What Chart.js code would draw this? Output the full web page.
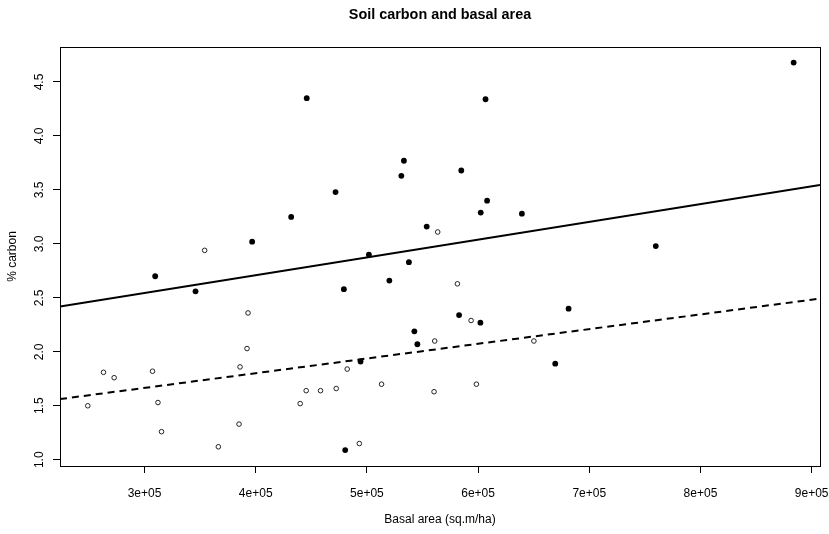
<!DOCTYPE html>
<html>
<head>
<meta charset="utf-8">
<title>Soil carbon and basal area</title>
<script src="https://cdn.jsdelivr.net/npm/chart.js@4/dist/chart.umd.min.js"></script>
<style>
  html, body { margin: 0; padding: 0; background: #ffffff; }
  canvas { display: block; }
</style>
</head>
<body>
<canvas id="chart" width="829" height="534"></canvas>
<script>
// Plots with filled markers (upper group)
const groupOneBasal = [309600, 345900, 396800, 431900, 445900, 471800, 479300, 480500, 494300, 501800,
                       520200, 531000, 533300, 537800, 542700, 545400, 553800, 582900, 584900, 602100,
                       602400, 606700, 608100, 639400, 669400, 681400, 759800, 883800];
const groupOneCarbon = [2.70, 2.56, 3.02, 3.25, 4.35, 3.48, 2.58, 1.09, 1.91, 2.90,
                        2.66, 3.63, 3.77, 2.83, 2.19, 2.07, 3.16, 2.34, 3.68, 2.27,
                        3.29, 4.34, 3.40, 3.28, 1.89, 2.40, 2.98, 4.68];

// Plots with open markers (lower group)
const groupTwoBasal = [249000, 263100, 272700, 307200, 312100, 315300, 354100, 366400, 385000, 385900,
                       392200, 393100, 440000, 445400, 458300, 472400, 482300, 493200, 513200, 560400,
                       561000, 563700, 581400, 593700, 598500, 650200];
const groupTwoCarbon = [1.50, 1.81, 1.76, 1.82, 1.53, 1.26, 2.94, 1.12, 1.33, 1.86,
                        2.03, 2.36, 1.52, 1.64, 1.64, 1.66, 1.84, 1.15, 1.70, 1.63,
                        2.10, 3.11, 2.63, 2.29, 1.70, 2.10];

// Fitted straight lines: carbon = intercept + slope * basal area
const fitIntercepts = [2.051, 1.257];
const fitSlopes = [1.647e-6, 1.362e-6];

// Axis ranges and ticks
const xRange = [224000, 907500];
const yRange = [0.942, 4.824];
const xTickValues = [300000, 400000, 500000, 600000, 700000, 800000, 900000];
const xTickLabels = ["3e+05", "4e+05", "5e+05", "6e+05", "7e+05", "8e+05", "9e+05"];
const yTickValues = [1.0, 1.5, 2.0, 2.5, 3.0, 3.5, 4.0, 4.5];
const yTickLabels = ["1.0", "1.5", "2.0", "2.5", "3.0", "3.5", "4.0", "4.5"];

const mainTitle = "Soil carbon and basal area";
const xTitle = "Basal area (sq.m/ha)";
const yTitle = "% carbon";

const FONT = '"Liberation Sans", Arial, Helvetica, sans-serif';
Chart.defaults.font.family = FONT;
Chart.defaults.color = '#000000';

const toPoints = (xs, ys) => xs.map((x, i) => ({ x: x, y: ys[i] }));
const fitLine = (k) => xRange.map(x => ({ x: x, y: fitIntercepts[k] + fitSlopes[k] * x }));

// Frame box, rotated y tick labels and the main title
const framePlugin = {
  id: 'frame',
  afterDraw(chart) {
    const { ctx, chartArea: a, scales } = chart;
    ctx.save();
    ctx.strokeStyle = '#000000';
    ctx.lineWidth = 1;
    const l = Math.round(a.left) + 0.5, t = Math.round(a.top) + 0.5;
    const r = Math.round(a.right) + 0.5, b = Math.round(a.bottom) + 0.5;
    ctx.strokeRect(l, t, r - l, b - t);

    ctx.fillStyle = '#000000';
    ctx.font = '12px ' + FONT;
    ctx.textAlign = 'center';
    ctx.textBaseline = 'middle';
    yTickValues.forEach((v, i) => {
      const y = scales.y.getPixelForValue(v);
      ctx.save();
      ctx.translate(a.left - 20, y);
      ctx.rotate(-Math.PI / 2);
      ctx.fillText(yTickLabels[i], 0, 0);
      ctx.restore();
    });

    ctx.font = 'bold 14.4px ' + FONT;
    ctx.fillText(mainTitle, (a.left + a.right) / 2, 15);
    ctx.restore();
  }
};

new Chart(document.getElementById('chart'), {
  type: 'scatter',
  data: {
    datasets: [
      {
        label: 'fit one',
        data: fitLine(0),
        showLine: true,
        borderColor: '#000000',
        borderWidth: 2,
        pointRadius: 0,
        fill: false
      },
      {
        label: 'fit two',
        data: fitLine(1),
        showLine: true,
        borderColor: '#000000',
        borderWidth: 2,
        borderDash: [7, 5],
        pointRadius: 0,
        fill: false
      },
      {
        label: 'group one',
        data: toPoints(groupOneBasal, groupOneCarbon),
        pointRadius: 2.9,
        pointBackgroundColor: '#000000',
        pointBorderColor: '#000000',
        pointBorderWidth: 0
      },
      {
        label: 'group two',
        data: toPoints(groupTwoBasal, groupTwoCarbon),
        pointRadius: 2.3,
        pointBackgroundColor: 'rgba(0,0,0,0)',
        pointBorderColor: '#222222',
        pointBorderWidth: 1
      }
    ]
  },
  options: {
    responsive: false,
    animation: false,
    devicePixelRatio: 1,
    events: [],
    layout: { padding: { top: 47, right: 9, bottom: 0, left: 0 } },
    plugins: {
      legend: { display: false },
      tooltip: { enabled: false },
      title: { display: false }
    },
    scales: {
      x: {
        type: 'linear',
        position: 'bottom',
        min: xRange[0],
        max: xRange[1],
        border: { display: false },
        grid: { drawOnChartArea: false, drawTicks: true, tickLength: 7, color: '#000000', tickWidth: 1 },
        afterBuildTicks(scale) { scale.ticks = xTickValues.map(v => ({ value: v })); },
        afterFit(scale) { scale.height = 68; scale.paddingLeft = 0; scale.paddingRight = 0; },
        ticks: {
          autoSkip: false,
          maxRotation: 0,
          minRotation: 0,
          padding: 13,
          font: { size: 12 },
          color: '#000000',
          callback: (v) => xTickLabels[xTickValues.indexOf(v)]
        },
        title: {
          display: true,
          text: xTitle,
          font: { size: 12 },
          color: '#000000',
          padding: { top: 0, bottom: 7 }
        }
      },
      y: {
        type: 'linear',
        position: 'left',
        min: yRange[0],
        max: yRange[1],
        border: { display: false },
        grid: { drawOnChartArea: false, drawTicks: true, tickLength: 7, color: '#000000', tickWidth: 1 },
        afterBuildTicks(scale) { scale.ticks = yTickValues.map(v => ({ value: v })); },
        afterFit(scale) { scale.width = 60; scale.paddingTop = 0; scale.paddingBottom = 0; },
        ticks: { display: false },
        title: {
          display: true,
          text: yTitle,
          font: { size: 12 },
          color: '#000000',
          padding: { top: 5, bottom: 0 }
        }
      }
    }
  },
  plugins: [framePlugin]
});
</script>
</body>
</html>
